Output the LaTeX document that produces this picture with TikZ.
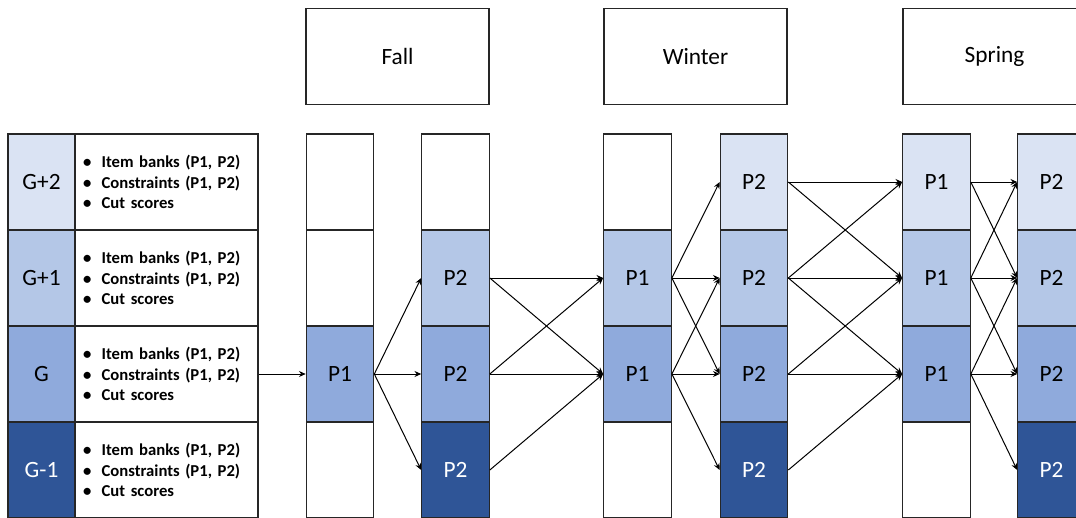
\documentclass[tikz,border=0pt]{standalone}
\usepackage{fontspec}
\setmainfont{Carlito}
\usetikzlibrary{arrows.meta}

% grade shades, lightest (G+2) to darkest (G-1)
\definecolor{shadeA}{HTML}{DAE3F3}
\definecolor{shadeB}{HTML}{B4C7E7}
\definecolor{shadeC}{HTML}{8FAADC}
\definecolor{shadeD}{HTML}{2F5597}

\tikzset{
  cell/.style={draw=black!85, line width=0.9pt, fill=white, inner sep=0pt,
    minimum width=50.6pt, minimum height=72pt,
    font=\fontsize{17.5}{21}\selectfont},
  rowA/.style={cell, fill=shadeA},
  rowB/.style={cell, fill=shadeB},
  rowC/.style={cell, fill=shadeC},
  rowD/.style={cell, fill=shadeD, text=white},
  gradecell/.style={cell, minimum width=50.25pt},
  listcell/.style={cell, minimum width=137.25pt, text width=125.25pt,
    inner xsep=6pt, align=left,
    font=\fontsize{12.5}{15.4}\selectfont\bfseries},
  season/.style={cell, minimum width=137.25pt, minimum height=72pt},
  arr/.style={-{Stealth[length=5pt,width=4.5pt]}, line width=0.75pt, black},
}

\newcommand{\itemlist}{%
  \makebox[14pt][l]{\textbullet}Item banks (P1, P2)\\
  \makebox[14pt][l]{\textbullet}Constraints (P1, P2)\\
  \makebox[14pt][l]{\textbullet}Cut scores}

\begin{document}
\begin{tikzpicture}[x=0.75pt, y=-0.75pt]
\useasboundingbox (0,0) rectangle (1076,518);
\clip (0,0) rectangle (1076,518);

% season headers
\node[season] (fall)   at (397.5,56.5) {Fall};
\node[season] (winter) at (695.5,56.5) {Winter};
\node[season] (spring) at (994.5,56.5) {Spring};

% grade labels and their contents
\node[gradecell, fill=shadeA] (g1) at (41.5,182) {G+2};
\node[gradecell, fill=shadeB] (g2) at (41.5,278) {G+1};
\node[gradecell, fill=shadeC] (g3) at (41.5,374) {G};
\node[gradecell, fill=shadeD, text=white] (g4) at (41.5,470) {G-1};
\node[listcell] (t1) at (166.5,182) {\itemlist};
\node[listcell] (t2) at (166.5,278) {\itemlist};
\node[listcell] (t3) at (166.5,374) {\itemlist};
\node[listcell] (t4) at (166.5,470) {\itemlist};

% Fall, panel 1
\node[cell] (c1r1) at (340,182) {};
\node[cell] (c1r2) at (340,278) {};
\node[rowC] (c1r3) at (340,374) {P1};
\node[cell] (c1r4) at (340,470) {};
% Fall, panel 2
\node[cell] (c2r1) at (455.5,182) {};
\node[rowB] (c2r2) at (455.5,278) {P2};
\node[rowC] (c2r3) at (455.5,374) {P2};
\node[rowD] (c2r4) at (455.5,470) {P2};
% Winter, panel 1
\node[cell] (c3r1) at (637.5,182) {};
\node[rowB] (c3r2) at (637.5,278) {P1};
\node[rowC] (c3r3) at (637.5,374) {P1};
\node[cell] (c3r4) at (637.5,470) {};
% Winter, panel 2
\node[rowA] (c4r1) at (754,182) {P2};
\node[rowB] (c4r2) at (754,278) {P2};
\node[rowC] (c4r3) at (754,374) {P2};
\node[rowD] (c4r4) at (754,470) {P2};
% Spring, panel 1
\node[rowA] (c5r1) at (936.5,182) {P1};
\node[rowB] (c5r2) at (936.5,278) {P1};
\node[rowC] (c5r3) at (936.5,374) {P1};
\node[cell] (c5r4) at (936.5,470) {};
% Spring, panel 2
\node[rowA] (c6r1) at (1051.5,182) {P2};
\node[rowB] (c6r2) at (1051.5,278) {P2};
\node[rowC] (c6r3) at (1051.5,374) {P2};
\node[rowD] (c6r4) at (1051.5,470) {P2};

% routing between panels
\draw[arr] (t3.east) -- (c1r3.west);
\foreach \a/\b/\c/\d in {
  1/3/2/2, 1/3/2/3, 1/3/2/4,
  2/2/3/2, 2/2/3/3, 2/3/3/2, 2/3/3/3, 2/4/3/3,
  3/2/4/1, 3/2/4/2, 3/2/4/3, 3/3/4/2, 3/3/4/3, 3/3/4/4,
  4/1/5/1, 4/1/5/2, 4/2/5/1, 4/2/5/2, 4/2/5/3, 4/3/5/2, 4/3/5/3, 4/4/5/3,
  5/1/6/1, 5/1/6/2, 5/2/6/1, 5/2/6/2, 5/2/6/3, 5/3/6/2, 5/3/6/3, 5/3/6/4}
  \draw[arr] (c\a r\b.east) -- (c\c r\d.west);
\end{tikzpicture}
\end{document}
